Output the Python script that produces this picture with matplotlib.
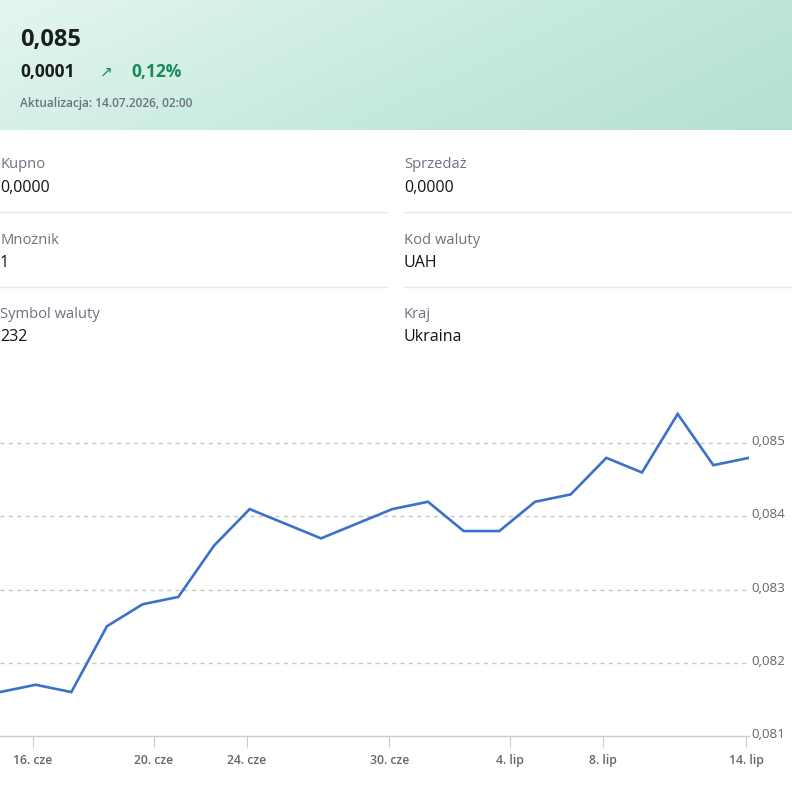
import numpy as np
import matplotlib
matplotlib.use("Agg")
import matplotlib.pyplot as plt
import matplotlib.transforms as mtrans
from matplotlib.colors import LinearSegmentedColormap
from matplotlib.ticker import FuncFormatter

plt.rcParams['font.family'] = ['Open Sans', 'DejaVu Sans']

# ── dane: kurs UAH, dni notowań 15.06 – 14.07 ──
dates = ['15.06', '16.06', '17.06', '18.06', '19.06', '22.06', '23.06', '24.06',
         '25.06', '26.06', '29.06', '30.06', '01.07', '02.07', '03.07', '06.07',
         '07.07', '08.07', '09.07', '10.07', '13.07', '14.07']
rates = [0.0816, 0.0817, 0.0816, 0.0825, 0.0828, 0.0829, 0.0836, 0.0841,
         0.0839, 0.0837, 0.0839, 0.0841, 0.0842, 0.0838, 0.0838, 0.0842,
         0.0843, 0.0848, 0.0846, 0.0854, 0.0847, 0.0848]

# ticki osi x (oś porządkowa, północ przed punktem 02:00)
tick_labels = ['16. cze', '20. cze', '24. cze', '30. cze', '4. lip', '8. lip', '14. lip']
tick_pos = [0.917, 4.306, 6.917, 10.917, 14.306, 16.917, 20.917]
y_ticks = [0.081, 0.082, 0.083, 0.084, 0.085]

info = [
    ('Kupno', '0,0000', 'Sprzedaż', '0,0000'),
    ('Mnożnik', '1', 'Kod waluty', 'UAH'),
    ('Symbol waluty', '232', 'Kraj', 'Ukraina'),
]

W, H = 792, 790
fig = plt.figure(figsize=(W / 100, H / 100), dpi=100)
fig.patch.set_facecolor('white')

# ── nagłówek z gradientem ──
hdr = fig.add_axes([0, 1 - 130 / H, 1, 130 / H])
cmap = LinearSegmentedColormap.from_list('mint', ['#e4f6f0', '#c8ebde', '#b4e1d0'])
gx, gy = np.meshgrid(np.linspace(0, 1, 300), np.linspace(0, 1, 60))
grad = 0.75 * gx + 0.25 * gy
hdr.imshow(grad, cmap=cmap, aspect='auto', extent=[0, W, 130, 0])
hdr.set_xlim(0, W)
hdr.set_ylim(130, 0)
hdr.axis('off')


def px(x, y):
    return x / W, 1 - y / H


fig.text(*px(20, 40), '0,085', fontsize=17, fontweight='bold', color='#1b1d1f', va='center')
fig.text(*px(20, 72), '0,0001', fontsize=12.5, fontweight='bold', color='#1b1d1f', va='center')
fig.text(*px(100, 72), '↗', fontsize=11, color='#1a8a5a', va='center', family=['DejaVu Sans'])
fig.text(*px(131, 72), '0,12%', fontsize=12.5, fontweight='bold', color='#1a8a5a', va='center')
fig.text(*px(20, 103), 'Aktualizacja: 14.07.2026, 02:00', fontsize=8.6, fontweight='semibold',
         color='#6b7280', va='center')

# ── tabela informacji ──
row_y = [165, 240, 314]
for (l1, v1, l2, v2), y in zip(info, row_y):
    fig.text(*px(0, y), l1, fontsize=10.6, color='#6b7280', va='center')
    fig.text(*px(0, y + 23), v1, fontsize=11.5, fontweight='medium', color='#111315', va='center')
    fig.text(*px(404, y), l2, fontsize=10.6, color='#6b7280', va='center')
    fig.text(*px(404, y + 23), v2, fontsize=11.5, fontweight='medium', color='#111315', va='center')
for y in [212, 287]:
    fig.add_artist(plt.Line2D([0, 387 / W], [1 - y / H] * 2, color='#e5e7eb', lw=1))
    fig.add_artist(plt.Line2D([404 / W, 1], [1 - y / H] * 2, color='#e5e7eb', lw=1))

# ── wykres ──
ax = fig.add_axes([0, 54 / H, 749 / W, (736 - 399.3) / H])
x = np.arange(len(rates))
ax.plot(x, rates, color='#3b71c8', lw=1.9, solid_joinstyle='miter')
ax.set_xlim(0, len(rates) - 1)
ax.set_ylim(0.081, 0.0856)

for v in y_ticks[1:]:
    ax.axhline(v, color='#c8c8c8', lw=1, ls=(0, (3, 3)), zorder=0)

for s in ['top', 'left', 'right']:
    ax.spines[s].set_visible(False)
ax.spines['bottom'].set_color('#c8ccd4')
ax.spines['bottom'].set_linewidth(1)

ax.set_xticks(tick_pos)
ax.set_xticklabels(tick_labels)
ax.tick_params(axis='x', length=8, color='#c8ccd4', labelsize=8.8, labelcolor='#666666', pad=5)
for t in ax.get_xticklabels():
    t.set_fontweight('semibold')

ax.yaxis.tick_right()
ax.set_yticks(y_ticks)
ax.yaxis.set_major_formatter(FuncFormatter(lambda v, p: f'{v:.3f}'.replace('.', ',')))
ax.tick_params(axis='y', length=0, labelsize=9.6, labelcolor='#666666', pad=2)
up = mtrans.ScaledTranslation(0, 3 / 100, fig.dpi_scale_trans)
for t in ax.get_yticklabels():
    t.set_transform(t.get_transform() + up)
ax.patch.set_alpha(0)

fig.savefig('out.png', dpi=100)
